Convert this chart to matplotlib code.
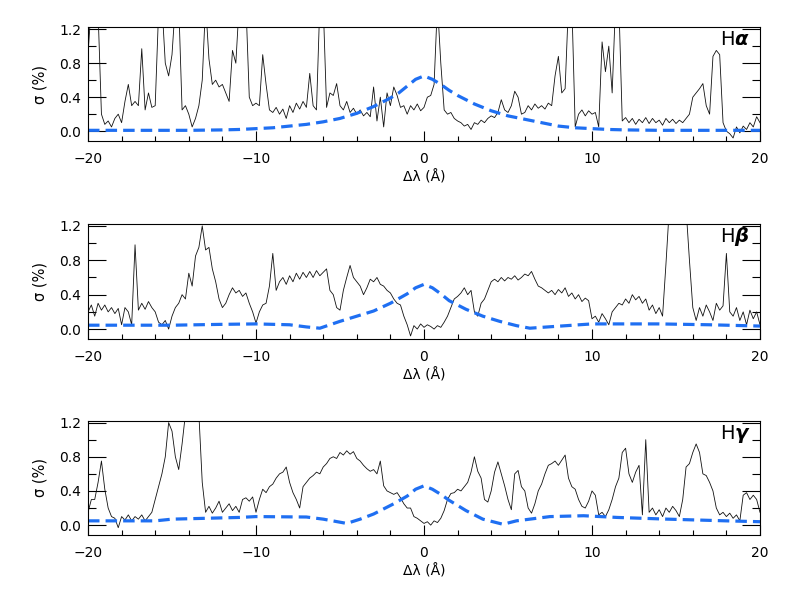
import numpy as np
import matplotlib
matplotlib.use("Agg")
import matplotlib.pyplot as plt
from matplotlib.ticker import MultipleLocator, FixedLocator
from matplotlib.transforms import offset_copy

plt.rcParams['font.family'] = ['DejaVu Sans']
plt.rcParams['mathtext.fontset'] = 'dejavusans'

# ---------------- data ----------------
# observed sigma (%), sampled every 0.2 A from -20 to 20
halpha_sigma = [
    0.9, 1.5, 1.5, 1.4, 0.2, 0.08, 0.12, 0.05, 0.15, 0.2,
    0.1, 0.35, 0.55, 0.3, 0.35, 0.3, 0.97, 0.25, 0.45, 0.28,
    0.3, 1.4, 1.5, 0.8, 0.65, 0.9, 1.5, 1.5, 0.25, 0.3,
    0.2, 0.05, 0.15, 0.3, 0.6, 1.5, 0.85, 0.55, 0.6, 0.52,
    0.55, 0.45, 0.35, 0.95, 0.8, 1.5, 1.5, 1.5, 0.4, 0.3,
    0.33, 0.3, 0.9, 0.55, 0.25, 0.22, 0.28, 0.2, 0.26, 0.15,
    0.3, 0.22, 0.33, 0.26, 0.35, 0.28, 0.68, 0.3, 0.25, 1.5,
    1.5, 0.28, 0.45, 0.42, 0.56, 0.3, 0.25, 0.35, 0.22, 0.27,
    0.2, 0.25, 0.18, 0.22, 0.17, 0.52, 0.12, 0.4, 0.05, 0.45,
    0.3, 0.52, 0.42, 0.28, 0.3, 0.2, 0.3, 0.25, 0.32, 0.24,
    0.28, 0.4, 0.42, 0.55, 1.5, 0.8, 0.25, 0.2, 0.22, 0.15,
    0.12, 0.1, 0.06, 0.08, 0.02, 0.1, 0.08, 0.13, 0.1, 0.15,
    0.18, 0.16, 0.22, 0.37, 0.25, 0.22, 0.3, 0.47, 0.4, 0.2,
    0.22, 0.3, 0.25, 0.32, 0.27, 0.3, 0.26, 0.33, 0.3, 0.65,
    0.88, 0.45, 0.5, 1.5, 1.5, 0.05, 0.2, 0.25, 0.18, 0.24,
    0.2, 0.22, 0.05, 1.05, 0.7, 1.0, 0.45, 1.5, 1.5, 0.12,
    0.16, 0.1, 0.15, 0.08, 0.14, 0.1, 0.16, 0.09, 0.15, 0.1,
    0.13, 0.07, 0.15, 0.1, 0.14, 0.09, 0.13, 0.1, 0.15, 0.2,
    0.4, 0.45, 0.5, 0.56, 0.3, 0.2, 0.88, 0.95, 0.9, 0.1,
    0.0, -0.03, -0.08, 0.05, -0.02, 0.06, 0.02, 0.1, 0.05, 0.17,
    0.1,
]

hbeta_sigma = [
    0.2, 0.28, 0.15, 0.3, 0.22, 0.28, 0.2, 0.25, 0.18, 0.24,
    0.05, 0.25, 0.2, 0.05, 0.98, 0.22, 0.3, 0.23, 0.32, 0.25,
    0.2, 0.08, 0.05, 0.1, 0.0, 0.15, 0.25, 0.3, 0.4, 0.35,
    0.65, 0.5, 0.85, 0.95, 1.2, 0.92, 0.95, 0.7, 0.55, 0.35,
    0.25, 0.3, 0.4, 0.48, 0.42, 0.45, 0.38, 0.42, 0.3, 0.2,
    0.07, 0.2, 0.28, 0.3, 0.5, 0.88, 0.45, 0.55, 0.6, 0.52,
    0.62, 0.55, 0.65, 0.58, 0.66, 0.6, 0.67, 0.6, 0.68, 0.62,
    0.66, 0.7, 0.45, 0.4, 0.25, 0.22, 0.45, 0.6, 0.74, 0.6,
    0.55, 0.5, 0.4, 0.48, 0.58, 0.55, 0.6, 0.52, 0.5, 0.45,
    0.42, 0.35, 0.3, 0.28, 0.15, 0.05, -0.08, 0.04, 0.0, 0.06,
    0.02, 0.05, 0.03, 0.0, 0.04, 0.02, 0.08, 0.15, 0.25, 0.35,
    0.38, 0.42, 0.48, 0.4, 0.45, 0.2, 0.15, 0.3, 0.35, 0.45,
    0.55, 0.58, 0.55, 0.6, 0.56, 0.6, 0.58, 0.62, 0.57, 0.6,
    0.64, 0.62, 0.67, 0.58, 0.5, 0.48, 0.45, 0.42, 0.45, 0.4,
    0.46, 0.42, 0.48, 0.38, 0.42, 0.35, 0.4, 0.32, 0.36, 0.33,
    0.12, 0.15, 0.08, 0.18, 0.12, 0.05, 0.2, 0.25, 0.3, 0.28,
    0.35, 0.3, 0.4, 0.34, 0.38, 0.3, 0.35, 0.22, 0.28, 0.18,
    0.25, 0.15, 0.75, 1.4, 1.5, 1.5, 1.5, 1.5, 1.4, 0.8,
    0.25, 0.1, 0.25, 0.15, 0.28, 0.2, 0.1, 0.3, 0.22, 0.27,
    0.88, 0.2, 0.15, 0.25, 0.1, 0.2, 0.05, 0.22, 0.12, 0.2,
    0.05,
]

hgamma_sigma = [
    0.15, 0.3, 0.3, 0.5, 0.75, 0.42, 0.2, 0.1, 0.08, -0.03,
    0.1, 0.06, 0.12, 0.05, 0.1, 0.07, 0.12, 0.05, 0.1, 0.15,
    0.3, 0.45, 0.6, 0.8, 1.2, 1.1, 0.8, 0.65, 0.95, 1.3,
    1.5, 1.5, 1.5, 1.3, 0.5, 0.15, 0.22, 0.14, 0.2, 0.28,
    0.15, 0.2, 0.25, 0.17, 0.22, 0.15, 0.3, 0.32, 0.28, 0.33,
    0.15, 0.3, 0.42, 0.38, 0.45, 0.48, 0.55, 0.6, 0.62, 0.68,
    0.5, 0.38, 0.3, 0.2, 0.45, 0.5, 0.55, 0.58, 0.62, 0.6,
    0.68, 0.72, 0.78, 0.8, 0.78, 0.85, 0.82, 0.87, 0.83, 0.86,
    0.78, 0.75, 0.7, 0.66, 0.63, 0.65, 0.6, 0.75, 0.46, 0.4,
    0.38, 0.36, 0.38, 0.32, 0.25, 0.2, 0.2, 0.1, 0.08, 0.05,
    0.02, 0.04, 0.0, 0.05, 0.03, 0.08, 0.17, 0.3, 0.37, 0.38,
    0.42, 0.4, 0.45, 0.5, 0.62, 0.8, 0.63, 0.55, 0.3, 0.27,
    0.4, 0.62, 0.74, 0.6, 0.46, 0.3, 0.18, 0.6, 0.64, 0.45,
    0.4, 0.2, 0.14, 0.25, 0.4, 0.48, 0.6, 0.7, 0.72, 0.75,
    0.7, 0.76, 0.82, 0.55, 0.45, 0.42, 0.3, 0.22, 0.2, 0.28,
    0.4, 0.35, 0.12, 0.15, 0.1, 0.18, 0.3, 0.45, 0.55, 0.85,
    0.9, 0.6, 0.5, 0.62, 0.7, 0.12, 1.0, 0.15, 0.2, 0.12,
    0.18, 0.1, 0.2, 0.15, 0.22, 0.17, 0.1, 0.3, 0.68, 0.72,
    0.85, 0.95, 0.85, 0.6, 0.58, 0.5, 0.4, 0.2, 0.12, 0.15,
    0.1, 0.14, 0.08, 0.12, 0.05, 0.35, 0.38, 0.3, 0.35, 0.3,
    0.15,
]

# model curves (blue dashed)
halpha_model_x = [-20, -14, -12, -11, -10, -9, -8, -7, -6, -5, -4, -3, -2, -1.5, -1, -0.5, 0,
                  0.5, 1, 1.5, 2, 3, 4, 5, 6, 7, 8, 9, 10, 11, 12, 14, 20]
halpha_model_y = [0.01, 0.01, 0.015, 0.02, 0.03, 0.04, 0.06, 0.08, 0.11, 0.15, 0.21, 0.29, 0.39,
                  0.45, 0.53, 0.61, 0.65, 0.61, 0.55, 0.48, 0.42, 0.32, 0.24, 0.18, 0.14, 0.10,
                  0.06, 0.04, 0.03, 0.02, 0.015, 0.01, 0.01]

hbeta_model_x = [-20, -15, -12, -10, -8, -7, -6.2, -5, -4, -3, -2, -1, -0.5, 0, 0.5, 1, 1.5,
                 2.5, 3.5, 4.5, 5.5, 6.3, 7, 8.5, 10, 14, 17, 20]
hbeta_model_y = [0.045, 0.045, 0.055, 0.06, 0.05, 0.025, 0.01, 0.09, 0.15, 0.21, 0.30, 0.41,
                 0.48, 0.52, 0.48, 0.41, 0.33, 0.23, 0.15, 0.09, 0.04, 0.01, 0.02, 0.04, 0.06,
                 0.06, 0.05, 0.035]

hgamma_model_x = [-20, -16, -15, -11, -10, -7, -6, -4.6, -3.8, -3, -1.8, -1, -0.5, 0, 0.5, 1,
                  1.5, 2.5, 3.5, 4.7, 5.5, 7.5, 9.5, 11.5, 14.5, 18, 20]
hgamma_model_y = [0.05, 0.05, 0.07, 0.09, 0.10, 0.095, 0.07, 0.02, 0.07, 0.13, 0.25, 0.34,
                  0.42, 0.46, 0.42, 0.36, 0.29, 0.17, 0.07, 0.01, 0.05, 0.10, 0.11, 0.09,
                  0.07, 0.05, 0.04]

line_greek = ['\u03b1', '\u03b2', '\u03b3']
x_ticks = [-20, -10, 0, 10, 20]
x_tick_labels = ['\u221220', '\u221210', '0', '10', '20']
y_ticks = [0.0, 0.4, 0.8, 1.2]
y_tick_labels = ['0.0', '0.4', '0.8', '1.2']

panels = [
    (halpha_sigma, halpha_model_x, halpha_model_y),
    (hbeta_sigma, hbeta_model_x, hbeta_model_y),
    (hgamma_sigma, hgamma_model_x, hgamma_model_y),
]

# ---------------- figure ----------------
fig = plt.figure(figsize=(7.86, 5.91), dpi=100)
W, H = 786.0, 591.0
left, right = 88 / W, 760 / W
tops = [27.3, 224.0, 420.7]
bottoms = [140.7, 338.7, 534.7]
blue = '#1f6ff2'

for i, (sig, mx, my) in enumerate(panels):
    ax = fig.add_axes([left, 1 - bottoms[i] / H, right - left, (bottoms[i] - tops[i]) / H])
    xs = np.linspace(-20, 20, len(sig))
    ax.plot(xs, sig, color='#111111', lw=0.6)
    ax.plot(mx, my, color=blue, lw=2.3, dashes=(3.6, 1.9))
    ax.set_xlim(-20, 20)
    ax.set_ylim(-0.112, 1.222)
    ax.xaxis.set_major_locator(FixedLocator(x_ticks))
    ax.xaxis.set_minor_locator(MultipleLocator(2))
    ax.yaxis.set_major_locator(FixedLocator(y_ticks))
    ax.yaxis.set_minor_locator(MultipleLocator(0.2))
    ax.set_xticklabels(x_tick_labels)
    ax.set_yticklabels(y_tick_labels)
    ax.tick_params(axis='x', which='major', direction='in', length=7, width=0.8,
                   top=False, bottom=True, labelsize=10, pad=8)
    ax.tick_params(axis='x', which='minor', direction='in', length=3.5, width=0.8,
                   top=False, bottom=True)
    ax.tick_params(axis='y', which='major', direction='in', length=13, width=0.8,
                   left=True, right=True, labelsize=10, pad=5)
    ax.tick_params(axis='y', which='minor', direction='in', length=6, width=0.8,
                   left=True, right=True)
    for s in ax.spines.values():
        s.set_linewidth(0.8)
    ax.set_xlabel('\u0394\u03bb (\u00c5)', fontsize=10, labelpad=3)
    ax.set_ylabel('\u03c3 (%)', fontsize=10.5, labelpad=8)
    # panel label: upright H followed by a bold italic greek letter
    ax.text(0.982, 0.84, line_greek[i], transform=ax.transAxes, ha='right',
            va='baseline', fontsize=14, fontstyle='italic', fontweight='bold')
    ax.text(0.982, 0.84, 'H', ha='right', va='baseline', fontsize=14,
            transform=offset_copy(ax.transAxes, fig=fig, x=-9.3, y=0, units='points'))

fig.savefig('out.png', dpi=100)
